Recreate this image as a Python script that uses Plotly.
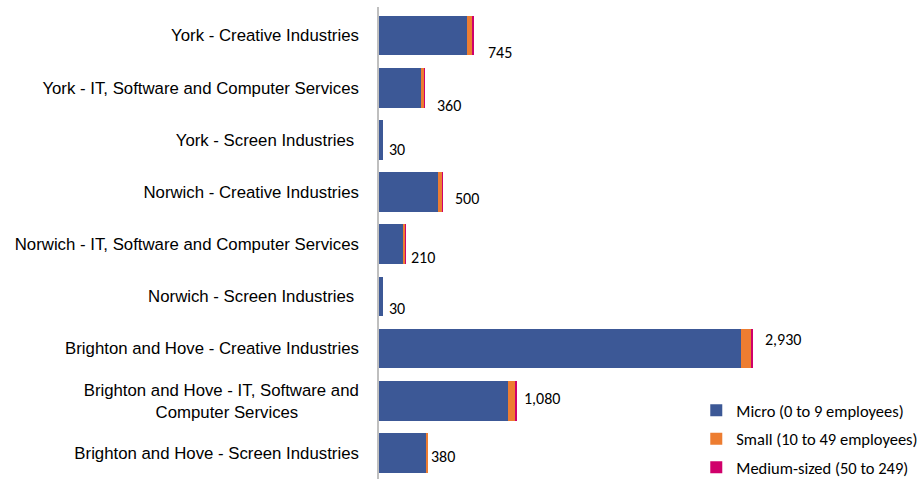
import plotly.graph_objects as go

# Business counts by size band, per area and sector
categories = [
    "York - Creative Industries",
    "York - IT, Software and Computer Services",
    "York - Screen Industries ",
    "Norwich - Creative Industries",
    "Norwich - IT, Software and Computer Services",
    "Norwich - Screen Industries ",
    "Brighton and Hove - Creative Industries",
    "Brighton and Hove - IT, Software and<br>Computer Services" + "\u00a0" * 13,
    "Brighton and Hove - Screen Industries",
]
micro = [690, 330, 30, 460, 195, 30, 2835, 1015, 375]
small = [45, 25, 0, 35, 13, 0, 85, 55, 5]
medium = [10, 5, 0, 5, 2, 0, 10, 10, 0]
totals = [745, 360, 30, 500, 210, 30, 2930, 1080, 380]
total_labels = ["745", "360", "30", "500", "210", "30", "2,930", "1,080", "380"]

series_names = [
    "Micro (0 to 9 employees)",
    "Small (10 to 49 employees)",
    "Medium-sized (50 to 249)",
]
series_colors = ["#3C5896", "#ED7D31", "#D0006B"]

# Label nudges (px) relative to the end of each bar
label_dx = [12, 10, 4, 10, 3, 4, 10, 5, 2]
label_dy = [-17, -18, -10, -6, -13, -12, 9, 2, -4]

fig = go.Figure()
for i, (name, vals, col) in enumerate(zip(series_names, [micro, small, medium], series_colors)):
    fig.add_trace(go.Bar(
        y=categories, x=vals, orientation="h", name=name,
        marker=dict(color=col, line=dict(width=0)),
        legendgroup=f"g{i}",
    ))

for cat, tot, lab, dx, dy in zip(categories, totals, total_labels, label_dx, label_dy):
    fig.add_annotation(
        x=tot, y=cat, text=lab, showarrow=False,
        xanchor="left", yanchor="middle", xshift=dx, yshift=dy,
        font=dict(family="Calibri, Carlito, Lato, sans-serif", size=16, color="#000000"),
    )

fig.update_layout(
    width=921, height=480,
    barmode="stack", bargap=0.24,
    plot_bgcolor="white", paper_bgcolor="white",
    margin=dict(l=379, r=0, t=7, b=1, autoexpand=False),
    xaxis=dict(visible=False, range=[0, 4250]),
    yaxis=dict(
        autorange="reversed", showline=True, linecolor="#BFBFBF", linewidth=1.5,
        ticks="", ticklabelstandoff=15,
        tickfont=dict(family="Liberation Sans, Arial, sans-serif", size=16.8, color="#000000"),
    ),
    showlegend=True,
    legend=dict(
        xref="container", yref="container", x=0.756, y=1 - 393 / 480,
        xanchor="left", yanchor="top", traceorder="grouped",
        tracegroupgap=4, bgcolor="rgba(0,0,0,0)",
        font=dict(family="Calibri, Carlito, Lato, sans-serif", size=16.5, color="#000000"),
    ),
)

fig.write_html("out.html")
